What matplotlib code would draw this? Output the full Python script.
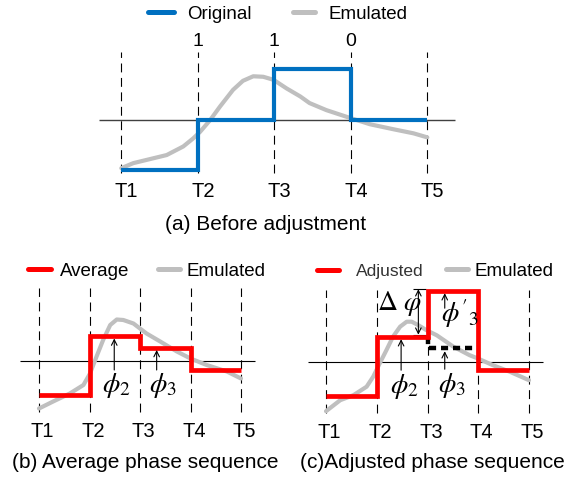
import numpy as np
import matplotlib.pyplot as plt
from matplotlib.lines import Line2D
from matplotlib.legend import Legend

plt.rcParams['font.family'] = ['Liberation Sans', 'DejaVu Sans']
plt.rcParams['mathtext.fontset'] = 'stix'

W, H = 569, 478

# time slots
t_labels = ['T1', 'T2', 'T3', 'T4', 'T5']
t_edges = [0, 1, 2, 3, 4]

# (a) before adjustment
bits_a = ['1', '1', '0']
original = [-1.0, 0.0, 1.0, 0.0]
emu_a_t = [0, 0.157, 0.375, 0.593, 0.81, 0.94, 1.03, 1.16, 1.29, 1.46, 1.59, 1.725,
           1.856, 1.99, 2.16, 2.34, 2.46, 2.68, 3.0, 3.25, 3.56, 3.82, 4.0]
emu_a_y = [-0.96, -0.86, -0.78, -0.70, -0.53, -0.37, -0.24, -0.01, 0.26, 0.59, 0.77, 0.86,
           0.85, 0.79, 0.62, 0.46, 0.33, 0.19, 0.03, -0.09, -0.19, -0.27, -0.35]

# (b) average phase per slot
average = [-0.68, 0.50, 0.27, -0.17]
emu_b_t = [0, 0.28, 0.61, 0.88, 1.01, 1.14, 1.27, 1.41, 1.54, 1.67, 1.87, 2.13,
           2.40, 2.73, 3.0, 3.32, 3.72, 4.0]
emu_b_y = [-0.95, -0.81, -0.65, -0.48, -0.25, 0.09, 0.42, 0.72, 0.83, 0.82, 0.75, 0.55,
           0.39, 0.19, 0.05, -0.08, -0.21, -0.35]

# (c) adjusted phase per slot
adjusted = [-0.68, 0.50, 1.42, -0.17]
emu_c_t = [0.0, 0.28, 0.54, 0.80, 0.93, 1.06, 1.19, 1.32, 1.46, 1.59, 1.69, 1.82,
           1.98, 2.18, 2.51, 2.83, 2.98, 3.29, 3.62, 4.0]
emu_c_y = [-0.99, -0.77, -0.67, -0.50, -0.30, -0.03, 0.23, 0.50, 0.70, 0.80, 0.80, 0.73,
           0.63, 0.53, 0.30, 0.13, 0.07, -0.07, -0.20, -0.37]

BLUE = '#0070C0'
RED = '#FF0000'
GRAY = '#BFBFBF'

fig = plt.figure(figsize=(W / 100, H / 100), dpi=100)


def panel(box, t0, dt, y0, unit):
    # box in pixels (left, right, top, bottom); T1 at t0, zero line at y0
    left, right, top, bottom = box
    ax = fig.add_axes([left / W, 1 - bottom / H, (right - left) / W, (bottom - top) / H])
    ax.set_xlim((left - t0) / dt, (right - t0) / dt)
    ax.set_ylim((y0 - bottom) / unit, (y0 - top) / unit)
    ax.axis('off')
    return ax


def fig_text(x, y, s, **kw):
    fig.text(x / W, 1 - y / H, s, ha='center', va='center', **kw)


def legend_entry(ax, color, label, x, y, length, gap, size=13.5, tcolor='black'):
    fs = size * 100 / 72
    h = Line2D([], [], color=color, lw=3.6, solid_capstyle='round')
    leg = Legend(ax, [h], [label], loc='center left', bbox_to_anchor=(x / W, 1 - y / H),
                 bbox_transform=fig.transFigure, frameon=False, fontsize=size,
                 handlelength=length / fs, handletextpad=gap / fs, borderpad=0,
                 borderaxespad=0, labelcolor=tcolor)
    ax.add_artist(leg)


def base(ax, lo, hi, xa, xb, axis_color, axis_lw, label_y):
    ax.vlines(t_edges, lo, hi, colors='black', lw=0.8, linestyles=[(0, (8, 5))], zorder=1)
    ax.hlines(0, xa, xb, colors=axis_color, lw=axis_lw, zorder=1)
    for t, s in zip(t_edges, t_labels):
        ax.text(t + 0.07, label_y, s, ha='center', va='center', fontsize=14.5)


def arrow(ax, x, y0, y1, style='->'):
    ax.annotate('', xy=(x, y1), xytext=(x, y0),
                arrowprops=dict(arrowstyle=style + ',head_length=0.4,head_width=0.2',
                                lw=0.8, color='black', shrinkA=0, shrinkB=0,
                                mutation_scale=10))


PHI = dict(ha='center', va='center', fontsize=20)

# ---------------- (a) ----------------
ax = panel((0, 569, 0, 250), 121.3, 76.5, 119.7, 50.5)
base(ax, -1.05, 1.35, -0.29, 4.36, '#404040', 1.0, -1.43)
ax.plot(emu_a_t, emu_a_y, color=GRAY, lw=3.0, solid_capstyle='round',
        solid_joinstyle='round', zorder=2)
ax.stairs(original, t_edges, baseline=None, color=BLUE, lw=3.0, zorder=3, joinstyle='miter')
for t, b in zip(t_edges[1:4], bits_a):
    ax.text(t, 1.545, b, ha='center', va='center', fontsize=14)
legend_entry(ax, BLUE, 'Original', 147.5, 14, 26, 14)
legend_entry(ax, GRAY, 'Emulated', 292.5, 14, 22, 14)
fig_text(265.7, 224, '(a) Before adjustment', fontsize=15)

# ---------------- (b) ----------------
ax = panel((0, 284, 250, 478), 39.0, 50.5, 361.0, 50.0)
base(ax, -1.02, 1.46, -0.38, 4.28, 'black', 0.8, -1.41)
ax.plot(emu_b_t, emu_b_y, color=GRAY, lw=3.0, solid_capstyle='round',
        solid_joinstyle='round', zorder=2)
ax.stairs(average, t_edges, baseline=None, color=RED, lw=3.4, zorder=3, joinstyle='miter')
arrow(ax, 1.49, -0.18, average[1] - 0.05)
arrow(ax, 2.33, -0.18, average[2] - 0.05)
ax.text(1.53, -0.48, r'$\phi_2$', **PHI)
ax.text(2.46, -0.48, r'$\phi_3$', **PHI)
legend_entry(ax, RED, 'Average', 28, 271.4, 22.5, 9)
legend_entry(ax, GRAY, 'Emulated', 157.5, 271.4, 22.5, 7)
fig_text(145, 463, '(b) Average phase sequence', fontsize=15)

# ---------------- (c) ----------------
ax = panel((284, 569, 250, 478), 326.0, 50.75, 361.7, 50.0)
base(ax, -1.03, 1.43, -0.35, 4.28, 'black', 0.8, -1.41)
ax.plot(emu_c_t, emu_c_y, color=GRAY, lw=3.0, solid_capstyle='round',
        solid_joinstyle='round', zorder=2)
ax.plot([2, 2, 3], [average[1], average[2], average[2]], color='black', lw=3.2,
        linestyle=(0, (1.6, 1.1)), zorder=2.5)
ax.stairs(adjusted, t_edges, baseline=None, color=RED, lw=3.4, zorder=3, joinstyle='miter')
arrow(ax, 1.48, -0.17, adjusted[1] - 0.05)
arrow(ax, 2.34, -0.15, average[2] - 0.06)
arrow(ax, 2.34, 1.07, adjusted[2] - 0.05)
arrow(ax, 1.82, adjusted[1] + 0.04, adjusted[2] + 0.03, style='<->')
ax.hlines([adjusted[1] + 0.04, adjusted[2] + 0.03], 1.71, 1.97, colors='black', lw=0.8)
ax.text(1.55, -0.50, r'$\phi_2$', **PHI)
ax.text(2.49, -0.47, r'$\phi_3$', **PHI)
ax.text(2.64, 0.97, r"$\phi'_3$", **PHI)
ax.text(1.44, 1.17, r'$\Delta\ \varphi$', **PHI)
legend_entry(ax, RED, 'Adjusted', 316.5, 271.4, 22, 17, size=12.5, tcolor='#333333')
legend_entry(ax, GRAY, 'Emulated', 446, 271.4, 22, 6)
fig_text(432.5, 463, '(c)Adjusted phase sequence', fontsize=15)

fig.savefig('out.png', dpi=100)
